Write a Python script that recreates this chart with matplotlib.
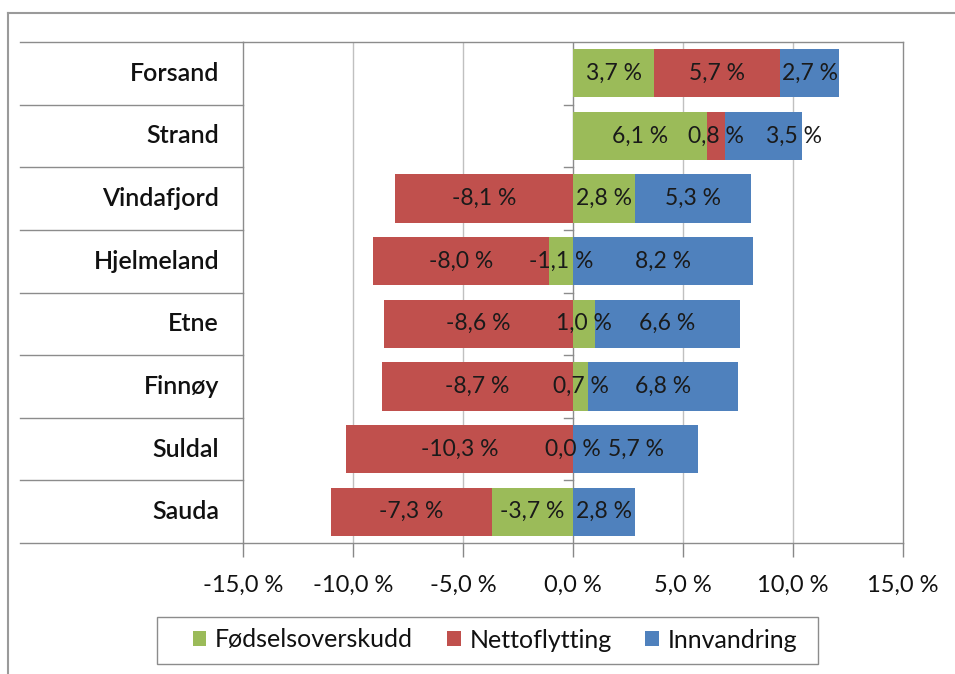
import matplotlib
matplotlib.use("Agg")
import matplotlib.pyplot as plt
from matplotlib.lines import Line2D
from matplotlib.patches import Patch, Rectangle

plt.rcParams['font.family'] = ['Lato', 'DejaVu Sans']

categories = ["Forsand", "Strand", "Vindafjord", "Hjelmeland", "Etne", "Finnøy", "Suldal", "Sauda"]
series_names = ["Fødselsoverskudd", "Nettoflytting", "Innvandring"]
fodsel = [3.7, 6.1, 2.8, -1.1, 1.0, 0.7, 0.0, -3.7]
netto = [5.7, 0.8, -8.1, -8.0, -8.6, -8.7, -10.3, -7.3]
innv = [2.7, 3.5, 5.3, 8.2, 6.6, 6.8, 5.7, 2.8]
xticks = [-15, -10, -5, 0, 5, 10, 15]
colors = ["#9BBB59", "#C0504D", "#4F81BD"]
# label nudges in points (series index, category index) -> dx
label_nudge = {(2, 1): 22}

W, H = 955, 674
fig = plt.figure(figsize=(W / 100, H / 100), dpi=100)
ax = fig.add_axes([243 / W, 1 - 543 / H, 660 / W, 501 / H])

pos_base = [0.0] * len(categories)
neg_base = [0.0] * len(categories)
bar_h = 0.77
for si, (vals, col) in enumerate(zip([fodsel, netto, innv], colors)):
    for i, v in enumerate(vals):
        if v >= 0:
            left = pos_base[i]
            pos_base[i] += v
        else:
            left = neg_base[i]
            neg_base[i] += v
        ax.barh(i, v, left=left, height=bar_h, color=col, zorder=3)
        lab = f"{v:.1f} %".replace(".", ",")
        ax.annotate(lab, (left + v / 2, i), xytext=(label_nudge.get((si, i), 0), 0),
                    textcoords="offset points", ha="center", va="center",
                    fontsize=16.5, color="#1a1a1a", zorder=4)

ax.set_xlim(-15, 15)
ax.set_ylim(len(categories) - 0.5, -0.5)
ax.set_xticks(xticks)
ax.set_xticklabels([f"{t:.1f} %".replace(".", ",") for t in xticks], fontsize=17)
ax.tick_params(axis="x", length=10, color="#888888", pad=13, width=1,
               labelcolor="#111111")
ax.set_yticks([])
for x in [-10, -5, 5, 10]:
    ax.axvline(x, color="#C0C0C0", lw=1, zorder=1)
ax.axvline(0, color="#8C8C8C", lw=1, zorder=2)
for s in ax.spines.values():
    s.set_color("#8C8C8C")
    s.set_linewidth(1)

# category separators on the left and small ticks at zero line
for b in range(len(categories) + 1):
    yb = b - 0.5
    ax.plot([-0.338, 0], [yb, yb], transform=ax.get_yaxis_transform(),
            color="#8C8C8C", lw=1, clip_on=False)
    if 0 < b < len(categories):
        ax.plot([-0.42, 0], [yb, yb], color="#8C8C8C", lw=1, zorder=2)

for i, c in enumerate(categories):
    ax.text(-24 / 660, i, c, transform=ax.get_yaxis_transform(), ha="right",
            va="center", fontsize=18, fontweight="semibold", color="#111111")

# outer chart border (partly cropped)
fig.add_artist(Line2D([8 / W, 8 / W], [0, 1 - 13 / H], color="#9A9A9A", lw=1.5))
fig.add_artist(Line2D([8 / W, 1], [1 - 13 / H, 1 - 13 / H], color="#9A9A9A", lw=1.5))

handles = [Patch(facecolor=c, edgecolor="none") for c in colors]
leg = fig.legend(handles, series_names, loc="center", ncol=3,
                 bbox_to_anchor=(495 / W, 1 - 640 / H), fontsize=18,
                 frameon=False, handlelength=0.55, handleheight=0.55,
                 handletextpad=0.35, columnspacing=1.35, borderpad=0,
                 borderaxespad=0)
for t in leg.get_texts():
    t.set_color("#111111")
# legend box as in the reference (wider left padding)
fig.add_artist(Rectangle((157 / W, 1 - 664 / H), 661 / W, 47 / H,
                         transform=fig.transFigure, facecolor="none",
                         edgecolor="#8C8C8C", lw=1))

fig.savefig("out.png", dpi=100)
